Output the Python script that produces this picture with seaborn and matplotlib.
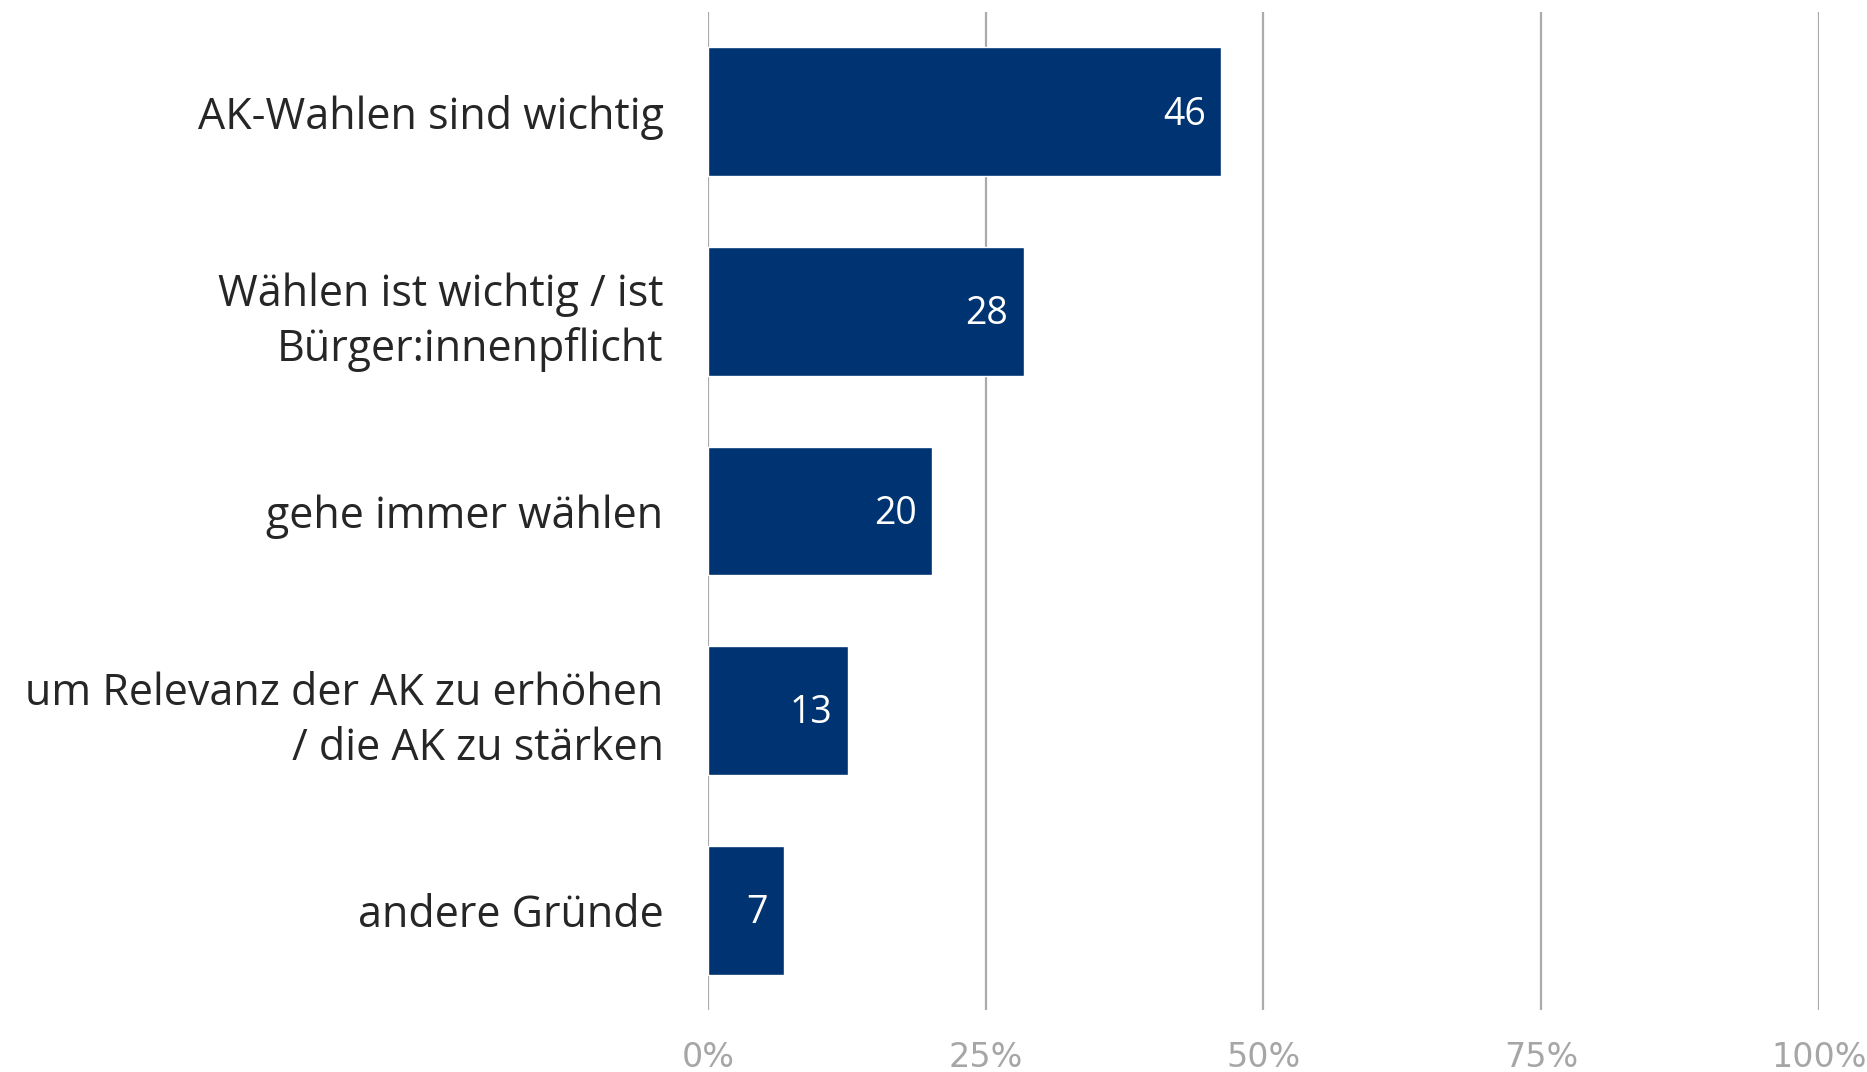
import matplotlib.pyplot as plt
import seaborn as sns
import pandas as pd

categories = [
    'AK-Wahlen sind wichtig',
    'Wählen ist wichtig / ist\nBürger:innenpflicht',
    'gehe immer wählen',
    'um Relevanz der AK zu erhöhen\n/ die AK zu stärken',
    'andere Gründe',
]
values = [46.2, 28.4, 20.2, 12.6, 6.8]
value_labels = ['46', '28', '20', '13', '7']
x_ticks = [0, 25, 50, 75, 100]
x_tick_labels = ['0%', '25%', '50%', '75%', '100%']

df = pd.DataFrame({'grund': categories, 'anteil': values})

navy = '#003371'
grid_grey = '#ababab'

sns.set_style('white')
plt.rcParams['font.family'] = ['Open Sans', 'DejaVu Sans']

fig = plt.figure(figsize=(18.67, 10.72), dpi=100)
ax = fig.add_axes([0.3792, 0.0578, 0.5951, 0.931])

# vertical gridlines behind the bars
for t in x_ticks:
    ax.axvline(t, color=grid_grey, linewidth=1.6, zorder=0)

sns.barplot(data=df, y='grund', x='anteil', orient='h', color=navy,
            width=0.645, saturation=1, ax=ax, zorder=2)

for i, (v, lab) in enumerate(zip(values, value_labels)):
    ax.annotate(lab, xy=(v, i), xytext=(-11, -2), textcoords='offset points',
                ha='right', va='center', color='white', fontsize=27, zorder=3)

ax.set_xlim(0, 100)
ax.set_ylim(4.5, -0.5)
ax.set_xticks(x_ticks)
ax.set_xticklabels(x_tick_labels, color='#a6a6a6', fontsize=24,
                   family=['Liberation Sans Narrow', 'DejaVu Sans'])
ax.tick_params(axis='x', length=0, pad=22)
ax.set_yticks(range(len(categories)))
ax.set_yticklabels(categories, fontsize=31, color='#262626', linespacing=1.3)
ax.tick_params(axis='y', length=0, pad=32)
for lab in ax.get_yticklabels():
    lab.set_y(lab.get_position()[1])
ax.set_xlabel('')
ax.set_ylabel('')
for s in ax.spines.values():
    s.set_visible(False)
ax.grid(False)

fig.savefig('out.png', dpi=100)
